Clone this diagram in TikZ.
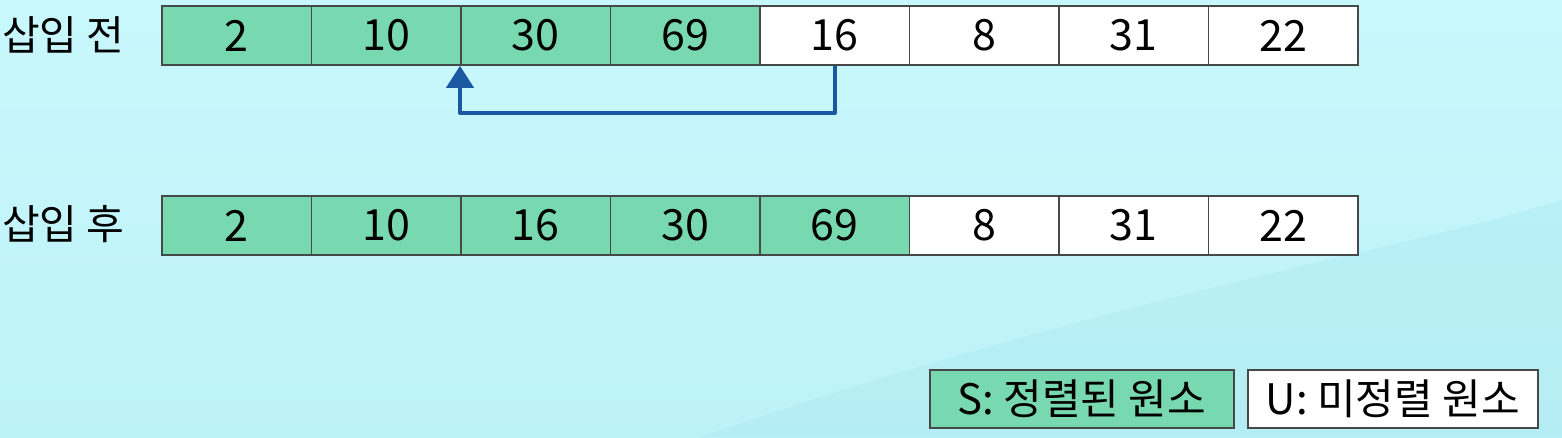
\documentclass[tikz,border=0pt]{standalone}
\usepackage{fontspec}
\setmainfont{Noto Sans CJK KR}
\usetikzlibrary{arrows.meta,positioning}
\definecolor{bgc}{HTML}{C8F8FC}
\definecolor{bgd}{HTML}{A4E4EE}
\definecolor{sortc}{HTML}{78D8B0}
\definecolor{edgec}{HTML}{454A48}
\definecolor{arrc}{HTML}{1A58A2}
\tikzset{
  cell/.style={draw=edgec,line width=1.8pt,minimum width=149.5pt,minimum height=59pt,inner sep=0pt,anchor=north west,font=\fontsize{43}{44}\selectfont},
  srt/.style={cell,fill=sortc},
  uns/.style={cell,fill=white},
  lbl/.style={anchor=west,inner sep=0pt,font=\fontsize{41}{42}\selectfont},
  leg/.style={draw=edgec,line width=1.8pt,minimum height=58pt,inner sep=0pt,anchor=north west,font=\fontsize{42}{43}\selectfont},
}
\begin{document}
\begin{tikzpicture}[x=1pt,y=-1pt]
\useasboundingbox (0,0) rectangle (1562,437);
\shade[top color=bgc,bottom color=bgc!70!bgd] (0,0) rectangle (1562,437);
\fill[bgd,opacity=0.3] (700,437) .. controls (1100,300) and (1400,250) .. (1562,200) -- (1562,437) -- cycle;
% labels
\node[lbl] (l1) at (2,35) {삽입 전};
\node[lbl] (l2) at (2,224) {삽입 후};
% top row
\node[srt] (a1) at (161,5) {2};
\node[srt] (a2) at (310.5,5) {10};
\node[srt] (a3) at (460,5) {30};
\node[srt] (a4) at (609.5,5) {69};
\node[uns] (a5) at (759,5) {16};
\node[uns] (a6) at (908.5,5) {8};
\node[uns] (a7) at (1058,5) {31};
\node[uns] (a8) at (1207.5,5) {22};
% bottom row
\node[srt] (b1) at (161,195) {2};
\node[srt] (b2) at (310.5,195) {10};
\node[srt] (b3) at (460,195) {16};
\node[srt] (b4) at (609.5,195) {30};
\node[srt] (b5) at (759,195) {69};
\node[uns] (b6) at (908.5,195) {8};
\node[uns] (b7) at (1058,195) {31};
\node[uns] (b8) at (1207.5,195) {22};
% arrow
\draw[arrc,line width=4pt,line join=round,-{Triangle[length=22pt,width=27pt]}]
  (a5.south) -- ++(0,47) -| (a3.south west);
% legend
\node[leg,fill=sortc,minimum width=304pt] (s) at (929,369) {S: 정렬된 원소};
\node[leg,fill=white,minimum width=290pt] (u) at (1247,369) {U: 미정렬 원소};
\end{tikzpicture}
\end{document}
